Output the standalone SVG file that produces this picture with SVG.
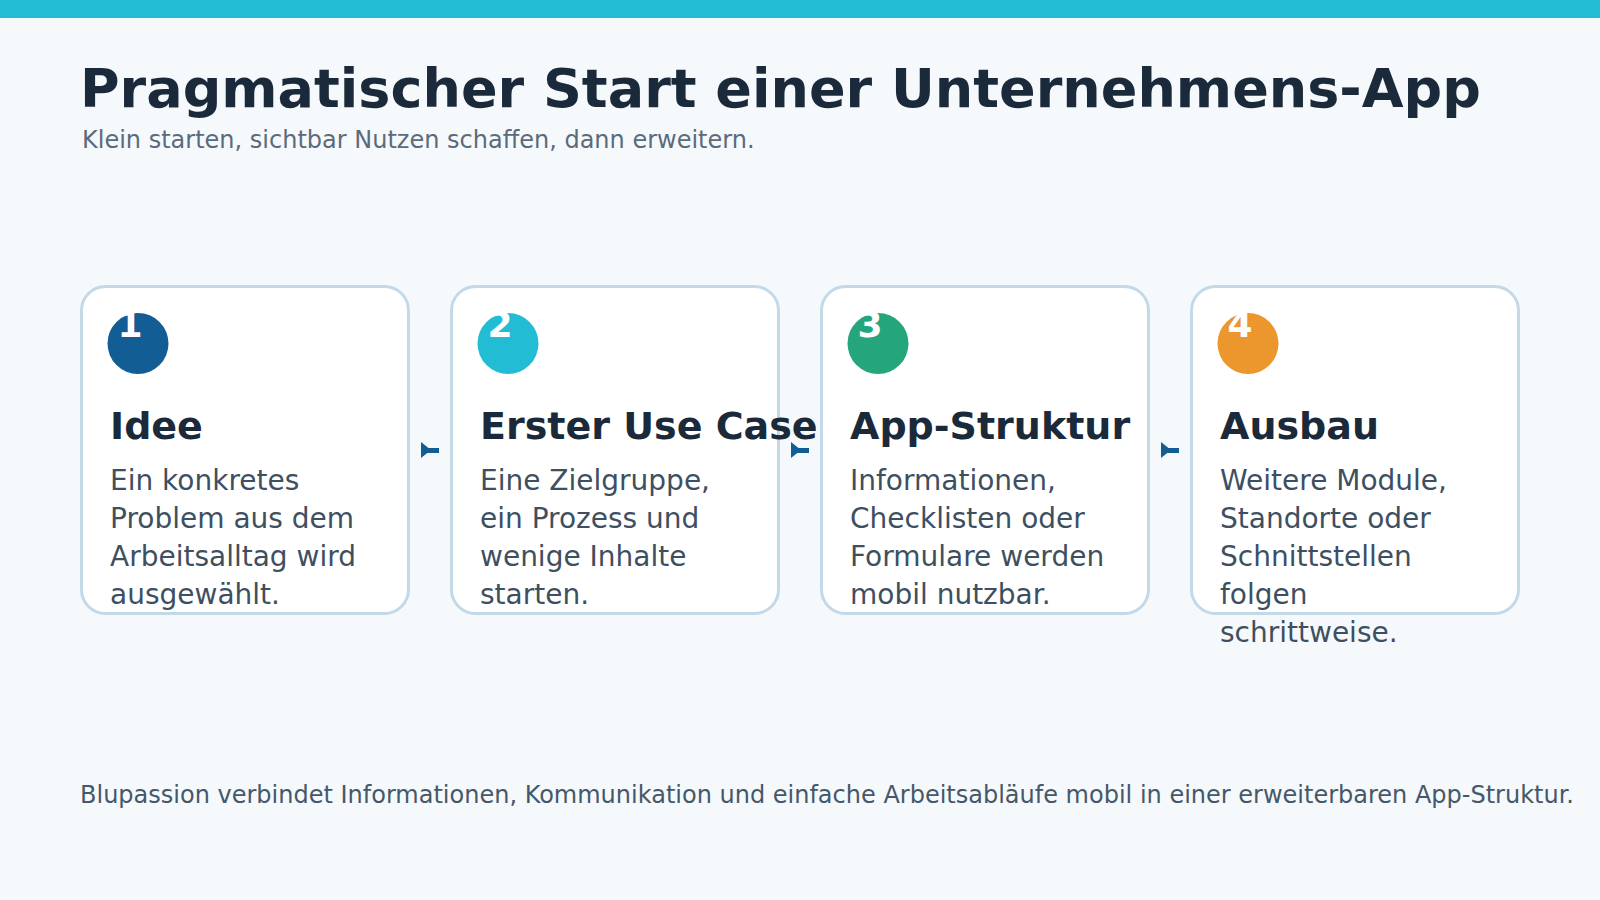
<svg xmlns="http://www.w3.org/2000/svg" width="1600" height="900" viewBox="0 0 1600 900">
  <defs>
    <style>
      .title { font-family: "DejaVu Sans", Verdana, sans-serif; font-weight: bold; font-size: 54px; fill: #1b2a3a; }
      .subtitle { font-family: "DejaVu Sans", Verdana, sans-serif; font-size: 24px; fill: #5b6b7b; }
      .card { fill: #ffffff; stroke: #c3d9e8; stroke-width: 3; }
      .num { font-family: "DejaVu Sans", Verdana, sans-serif; font-weight: bold; font-size: 36px; fill: #ffffff; text-anchor: middle; }
      .ctitle { font-family: "DejaVu Sans", Verdana, sans-serif; font-weight: bold; font-size: 38px; fill: #1b2a3a; }
      .body { font-family: "DejaVu Sans", Verdana, sans-serif; font-size: 28px; fill: #3e4f61; }
      .footer { font-family: "DejaVu Sans", Verdana, sans-serif; font-size: 24px; fill: #45586a; }
      .conn { stroke: #135d95; stroke-width: 5; fill: none; }
      .head { fill: #135d95; }
    </style>
    <path id="arrowhead" class="head" d="M0,-8 L10,0 L0,8 Z"/>
  </defs>
  <rect x="0" y="0" width="1600" height="900" fill="#f5f9fc"/>
  <rect x="0" y="0" width="1600" height="18" fill="#22bcd4"/>
  <text class="title" x="80" y="107">Pragmatischer Start einer Unternehmens-App</text>
  <text class="subtitle" x="82" y="148">Klein starten, sichtbar Nutzen schaffen, dann erweitern.</text>

  <g id="connectors">
    <line class="conn" x1="421" y1="450.5" x2="439" y2="450.5"/>
    <use href="#arrowhead" x="421" y="450"/>
    <line class="conn" x1="791" y1="450.5" x2="809" y2="450.5"/>
    <use href="#arrowhead" x="791" y="450"/>
    <line class="conn" x1="1161" y1="450.5" x2="1179" y2="450.5"/>
    <use href="#arrowhead" x="1161" y="450"/>
  </g>

  <g id="card1">
    <rect class="card" x="81.5" y="286.5" width="327" height="327" rx="24"/>
    <circle cx="138" cy="343.5" r="30.5" fill="#135d95"/>
    <text class="num" x="130" y="337">1</text>
    <text class="ctitle" x="110" y="439">Idee</text>
    <text class="body" x="110" y="489.5">Ein konkretes</text>
    <text class="body" x="110" y="527.5">Problem aus dem</text>
    <text class="body" x="110" y="565.5">Arbeitsalltag wird</text>
    <text class="body" x="110" y="603.5">ausgewählt.</text>
  </g>

  <g id="card2">
    <rect class="card" x="451.5" y="286.5" width="327" height="327" rx="24"/>
    <circle cx="508" cy="343.5" r="30.5" fill="#22bcd4"/>
    <text class="num" x="500" y="337">2</text>
    <text class="ctitle" x="480" y="439">Erster Use Case</text>
    <text class="body" x="480" y="489.5">Eine Zielgruppe,</text>
    <text class="body" x="480" y="527.5">ein Prozess und</text>
    <text class="body" x="480" y="565.5">wenige Inhalte</text>
    <text class="body" x="480" y="603.5">starten.</text>
  </g>

  <g id="card3">
    <rect class="card" x="821.5" y="286.5" width="327" height="327" rx="24"/>
    <circle cx="878" cy="343.5" r="30.5" fill="#24a57c"/>
    <text class="num" x="870" y="337">3</text>
    <text class="ctitle" x="850" y="439">App-Struktur</text>
    <text class="body" x="850" y="489.5">Informationen,</text>
    <text class="body" x="850" y="527.5">Checklisten oder</text>
    <text class="body" x="850" y="565.5">Formulare werden</text>
    <text class="body" x="850" y="603.5">mobil nutzbar.</text>
  </g>

  <g id="card4">
    <rect class="card" x="1191.5" y="286.5" width="327" height="327" rx="24"/>
    <circle cx="1248" cy="343.5" r="30.5" fill="#ec962e"/>
    <text class="num" x="1240" y="337">4</text>
    <text class="ctitle" x="1220" y="439">Ausbau</text>
    <text class="body" x="1220" y="489.5">Weitere Module,</text>
    <text class="body" x="1220" y="527.5">Standorte oder</text>
    <text class="body" x="1220" y="565.5">Schnittstellen</text>
    <text class="body" x="1220" y="603.5">folgen</text>
    <text class="body" x="1220" y="641.5">schrittweise.</text>
  </g>

  <text class="footer" x="80" y="803">Blupassion verbindet Informationen, Kommunikation und einfache Arbeitsabläufe mobil in einer erweiterbaren App-Struktur.</text>
</svg>
